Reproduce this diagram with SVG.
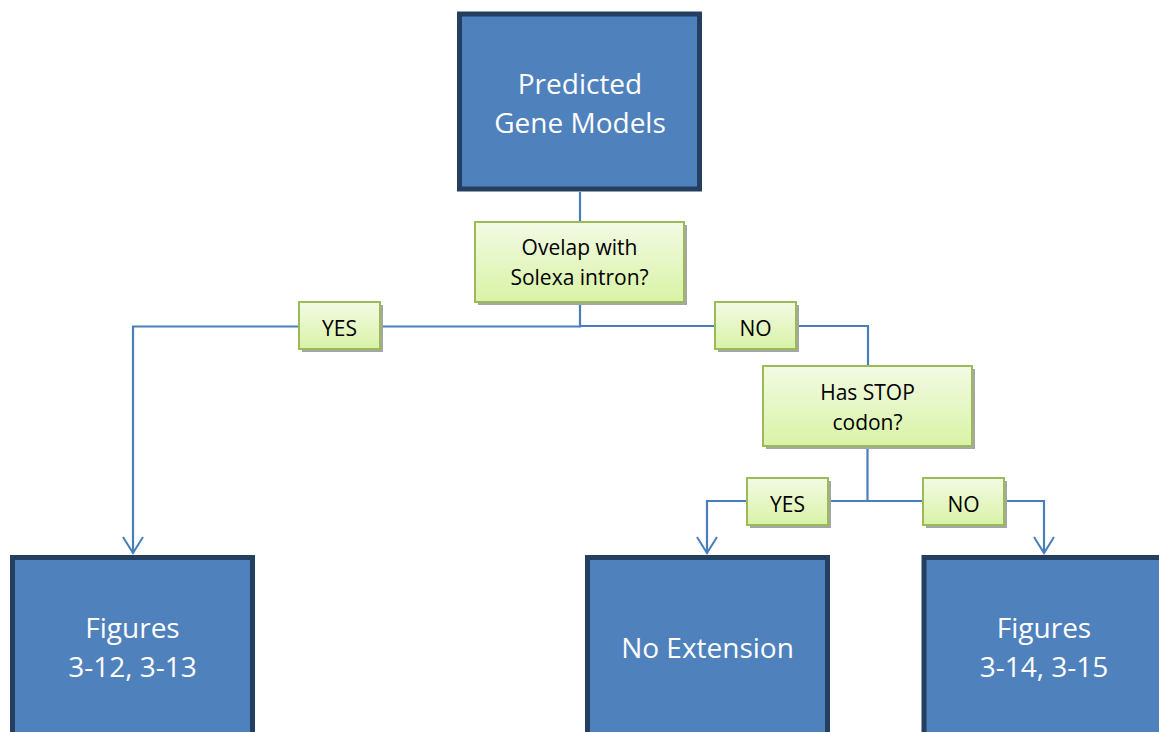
<svg xmlns="http://www.w3.org/2000/svg" width="1159" height="732" viewBox="0 0 1159 732">
  <defs>
    <linearGradient id="greenFill" x1="0" y1="0" x2="0" y2="1">
      <stop offset="0" stop-color="#F3FAE4"/>
      <stop offset="1" stop-color="#D8F3A6"/>
    </linearGradient>
    <marker id="openArrow" viewBox="0 0 20 22" refX="18" refY="11" markerWidth="20" markerHeight="22" markerUnits="userSpaceOnUse" orient="auto">
      <path d="M2 1 L18 11 L2 21" fill="none" stroke="#4A7EBB" stroke-width="2"/>
    </marker>
  </defs>
  <style>
    .blue { fill: #4F81BD; stroke: #243F60; stroke-width: 5; }
    .green { fill: url(#greenFill); stroke: #9BBB59; stroke-width: 2; }
    .shadow { fill: #A6A6A6; }
    .wire { fill: none; stroke: #4A7EBB; stroke-width: 2.2; }
    .big { font-family: "Open Sans", "Noto Sans", sans-serif; font-size: 28px; fill: #FFFFFF; text-anchor: middle; }
    .small { font-family: "Open Sans", "Noto Sans", sans-serif; font-size: 21px; fill: #000000; text-anchor: middle; }
  </style>
  <rect width="1159" height="732" fill="#FFFFFF"/>

  <!-- connectors -->
  <g id="connectors">
    <path class="wire" d="M580 192 V222"/>
    <path class="wire" d="M580 302 V326.5 H133 V553" marker-end="url(#openArrow)"/>
    <path class="wire" d="M580 326 H868 V366"/>
    <path class="wire" d="M867.5 446 V501 H707 V553" marker-end="url(#openArrow)"/>
    <path class="wire" d="M867.5 501 H1044 V553" marker-end="url(#openArrow)"/>
  </g>

  <!-- start node -->
  <g id="predicted-gene-models">
    <rect class="blue" x="459.5" y="14" width="240" height="175"/>
    <text class="big" x="580" y="94">Predicted</text>
    <text class="big" x="580" y="133">Gene Models</text>
  </g>

  <!-- decision: overlap -->
  <g id="overlap-decision">
    <rect class="shadow" x="478" y="225" width="209" height="80"/>
    <rect class="green" x="475" y="222" width="209" height="80"/>
    <text class="small" x="579.5" y="255">Ovelap with</text>
    <text class="small" x="579.5" y="285">Solexa intron?</text>
  </g>

  <g id="label-yes-1">
    <rect class="shadow" x="302" y="305" width="81" height="47"/>
    <rect class="green" x="299" y="302" width="81" height="47"/>
    <text class="small" x="339.5" y="336">YES</text>
  </g>

  <g id="label-no-1">
    <rect class="shadow" x="718" y="305" width="81" height="47"/>
    <rect class="green" x="715" y="302" width="81" height="47"/>
    <text class="small" x="755.5" y="336">NO</text>
  </g>

  <!-- decision: stop codon -->
  <g id="stop-decision">
    <rect class="shadow" x="766" y="369" width="209" height="80"/>
    <rect class="green" x="763" y="366" width="209" height="80"/>
    <text class="small" x="867.5" y="400">Has STOP</text>
    <text class="small" x="867.5" y="430">codon?</text>
  </g>

  <g id="label-yes-2">
    <rect class="shadow" x="750" y="481" width="81" height="47"/>
    <rect class="green" x="747" y="478" width="81" height="47"/>
    <text class="small" x="787.5" y="512">YES</text>
  </g>

  <g id="label-no-2">
    <rect class="shadow" x="926" y="481" width="81" height="47"/>
    <rect class="green" x="923" y="478" width="81" height="47"/>
    <text class="small" x="963.5" y="512">NO</text>
  </g>

  <!-- outcomes -->
  <g id="figures-3-12">
    <rect class="blue" x="12.5" y="557.5" width="240" height="185"/>
    <text class="big" x="132.5" y="638">Figures</text>
    <text class="big" x="132.5" y="677">3-12, 3-13</text>
  </g>

  <g id="no-extension">
    <rect class="blue" x="587.5" y="557.5" width="240" height="185"/>
    <text class="big" x="707.5" y="658">No Extension</text>
  </g>

  <g id="figures-3-14">
    <rect class="blue" x="924" y="557.5" width="240" height="185"/>
    <text class="big" x="1044" y="638">Figures</text>
    <text class="big" x="1044" y="677">3-14, 3-15</text>
  </g>
</svg>
